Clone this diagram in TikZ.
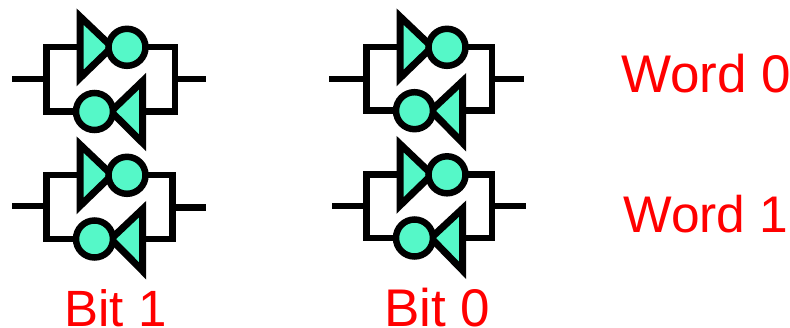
\documentclass[tikz,border=0pt]{standalone}
\usepackage{fontspec}
\setmainfont{Liberation Sans}
\definecolor{cellfill}{HTML}{55F8C8}
\tikzset{
  gate/.style={draw=black,line width=7pt,fill=cellfill,miter limit=10},
  bubble/.style={circle,draw=black,line width=6.5pt,fill=cellfill,minimum size=37pt,inner sep=0pt},
  wire/.style={draw=black,line width=6.5pt,line join=miter,line cap=butt},
  label/.style={text=red,anchor=base west,inner sep=0pt,outer sep=0pt}
}
% #1 name, #2 #3 origin of the cell, #4 right rail x, #5 bottom rail y,
% #6 #7 left stub end, #8 #9 right stub end
\newcommand{\memcell}[9]{%
  \coordinate (#1tl) at (#2+80,#3+16.5);
  \coordinate (#1bl) at (#2+80,#3+78);
  \coordinate (#1tip) at (#2+112,#3+47);
  \coordinate (#1tr) at (#2+142.7,#3+81);
  \coordinate (#1br) at (#2+142.7,#3+143);
  \coordinate (#1tipb) at (#2+111,#3+#5-#3);
  \coordinate (#1lin) at (#2+80,#3+47);
  \coordinate (#1rin) at (#2+142.7,#5);
  \coordinate (#1lrail) at (#2+46.5,#7);
  \coordinate (#1rrail) at (#4,#9);
  \coordinate (#1lend) at (#6,#7);
  \coordinate (#1rend) at (#8,#9);
  \coordinate (#1ct) at (#2+46.5,#3+47);
  \coordinate (#1cb) at (#2+46.5,#5);
  \coordinate (#1dt) at (#4,#3+47);
  \coordinate (#1db) at (#4,#5);
  \path[wire] (#1lend) -- (#1lrail);
  \path[wire] (#1rrail) -- (#1rend);
  \path[wire,line cap=rect] (#1lin) -- (#1ct) -- (#1cb) -- (#1rin -| #1tipb);
  \path[wire,line cap=rect] (#2+127,#3+47) -- (#1dt) -- (#1db) -- (#1rin);
  \path[gate] (#1tl) -- (#1tip) -- (#1bl) -- cycle;
  \node[bubble] (#1top) at (#2+127,#3+47.3) {};
  \path[gate] (#1tr) -- (#1tipb) -- (#1br) -- cycle;
  \node[bubble] (#1bot) at (#2+94.5,#5) {};
}
\begin{document}
\begin{tikzpicture}[x=1pt,y=-1pt]
\useasboundingbox (0,0) rectangle (790,328);
\memcell{a}{0}{0}{175}{111.5}{12}{79}{206}{79}
\memcell{b}{320}{0}{492}{110.7}{329}{79}{524}{79}
\memcell{c}{0}{128}{172.5}{239}{12}{206}{206}{207.5}
\memcell{d}{320}{127.5}{492}{238}{332}{206}{526}{206}
\node[label,font=\fontsize{53}{53}\selectfont] (w0) at (621,93) {Word 0};
\node[label,font=\fontsize{51.5}{52}\selectfont] (w1) at (623.5,232.5) {Word 1};
\node[label,font=\fontsize{51}{52}\selectfont] (b1) at (64.5,326.5) {Bit 1};
\node[label,font=\fontsize{53}{53}\selectfont] (b0) at (384,326.5) {Bit 0};
\end{tikzpicture}
\end{document}
